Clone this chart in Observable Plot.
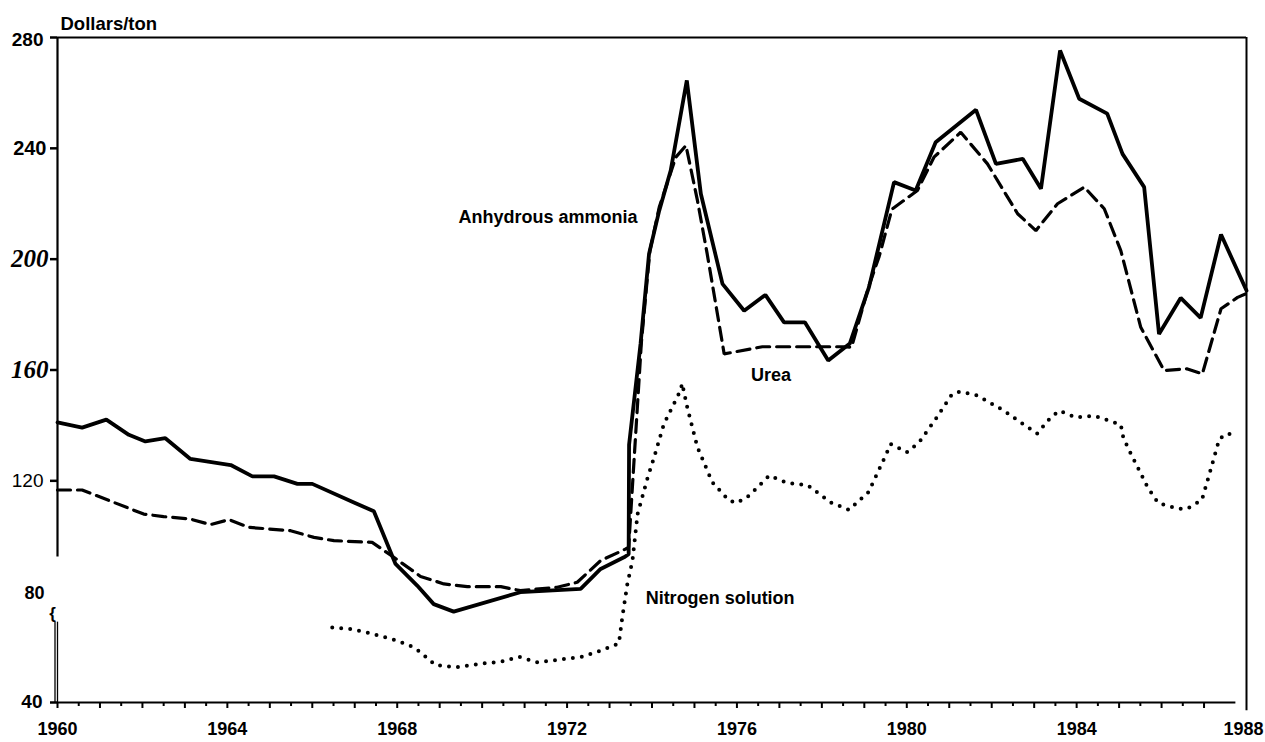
<!DOCTYPE html>
<html>
<head>
<meta charset="utf-8">
<script src="https://cdn.jsdelivr.net/npm/d3@7"></script>
<script src="https://cdn.jsdelivr.net/npm/@observablehq/plot@0.6"></script>
<style>
  html, body { margin: 0; padding: 0; background: #fff; }
  #chart svg { display: block; }
</style>
</head>
<body>
<div id="chart"></div>
<script>
// Anhydrous ammonia (solid), [year, dollars/ton]
const ammonia = [
  [1960.00,141.1],[1960.58,139.2],[1961.15,142.1],[1961.68,136.6],[1962.07,134.2],
  [1962.54,135.4],[1963.13,127.9],[1964.08,125.7],[1964.59,121.6],[1965.10,121.6],
  [1965.65,118.9],[1966.00,118.9],[1966.98,112.2],[1967.45,109.0],[1967.96,90.0],
  [1968.47,82.2],[1968.86,75.5],[1969.33,72.8],[1970.90,79.8],[1972.32,81.0],
  [1972.79,88.2],[1973.34,92.4],[1973.45,93.5],[1973.46,133.0],[1973.73,169.4],
  [1973.93,201.9],[1974.17,217.5],[1974.44,232.0],[1974.82,264.5],[1975.15,223.6],
  [1975.66,191.1],[1976.17,181.4],[1976.67,187.1],[1977.11,177.2],[1977.60,177.2],
  [1978.15,163.4],[1978.66,169.6],[1979.11,189.9],[1979.70,227.8],[1980.21,224.8],
  [1980.68,242.2],[1981.63,253.9],[1982.10,234.4],[1982.73,236.2],[1983.16,225.4],
  [1983.61,275.3],[1984.06,257.9],[1984.72,252.5],[1985.08,238.0],[1985.59,226.0],
  [1985.94,173.0],[1986.45,186.0],[1986.92,178.8],[1987.40,208.9],[1988.00,188.7]
];
// Urea (dashed)
const urea = [
  [1960.00,116.7],[1960.58,116.7],[1962.03,108.0],[1962.50,107.1],[1963.13,106.2],
  [1963.60,104.2],[1964.04,106.0],[1964.51,103.2],[1965.49,102.0],[1966.04,99.6],
  [1966.51,98.4],[1967.41,97.8],[1967.92,92.4],[1968.55,85.5],[1969.10,82.8],
  [1969.65,81.8],[1970.44,81.8],[1970.90,80.4],[1971.77,81.6],[1972.24,83.4],
  [1972.79,91.2],[1973.38,95.4],[1973.45,96.0],[1973.75,170.0],[1973.95,203.0],
  [1974.17,218.7],[1974.56,236.8],[1974.80,241.0],[1975.07,221.2],[1975.30,201.9],
  [1975.70,165.8],[1976.60,168.4],[1978.52,168.4],[1978.70,168.2],[1979.10,190.0],
  [1979.35,201.0],[1979.65,218.0],[1980.25,224.8],[1980.64,236.8],[1981.27,245.8],
  [1981.90,234.4],[1982.61,216.4],[1983.04,210.3],[1983.55,220.0],[1984.18,226.0],
  [1984.65,218.2],[1985.04,203.1],[1985.51,175.4],[1986.06,159.8],[1986.61,160.4],
  [1986.96,158.6],[1987.40,182.1],[1987.79,186.2],[1988.00,187.6]
];
// Nitrogen solution (dotted)
const nitrogen = [
  [1966.47,67.1],[1966.90,66.5],[1967.37,65.0],[1968.00,62.3],[1968.39,59.9],
  [1968.55,58.1],[1968.90,53.5],[1969.38,52.7],[1970.04,54.1],[1970.44,54.7],
  [1970.87,56.5],[1971.30,54.5],[1971.93,55.7],[1972.36,56.5],[1972.79,58.7],
  [1973.22,61.3],[1973.30,70.7],[1973.42,82.8],[1973.54,91.2],[1973.66,108.0],
  [1973.90,121.3],[1974.05,128.5],[1974.28,140.5],[1974.67,152.6],[1974.71,155.2],
  [1974.83,146.5],[1975.07,132.1],[1975.42,119.5],[1975.81,112.9],[1976.00,112.0],
  [1976.29,114.7],[1976.76,121.9],[1977.19,119.2],[1977.66,118.5],[1978.21,112.2],
  [1978.64,109.5],[1979.10,116.0],[1979.50,129.1],[1979.62,133.3],[1980.00,130.3],
  [1980.29,133.9],[1980.68,142.3],[1981.07,151.4],[1981.27,152.2],[1981.66,150.8],
  [1982.29,145.3],[1982.68,141.1],[1983.07,137.1],[1983.39,142.9],[1983.59,145.3],
  [1983.98,142.9],[1984.41,143.5],[1984.88,141.1],[1985.04,140.3],[1985.10,135.5],
  [1985.28,129.7],[1985.47,123.9],[1985.67,117.7],[1985.92,112.0],[1986.39,109.9],
  [1986.60,109.9],[1986.95,113.1],[1987.12,122.1],[1987.36,135.1],[1987.55,137.1],
  [1987.72,136.5]
];

const yTicksTop = [280];
const yTicksWide = [240];
const yTicksSerif = [200, 160];
const yTicksLight = [120];
const yTicksPlain = [80];
const yTicksBottom = [40];
const yTickMarks = [280, 240, 200, 160, 120, 40];
const xLabelTicks = [1960, 1964, 1968, 1972, 1976, 1980, 1984];
const xLabelLast = [1988];
const xYearTicks = d3.range(1960, 1988, 1);
const xHalfTicks = d3.range(1960.5, 1987, 1);

const W = 1265, H = 742, ML = 57, MR = 19, MT = 37, MB = 40;
const frameW = W - ML - MR, frameH = H - MT - MB;
const xDomain = [1960, 1988], yDomain = [40, 280];
// tick lengths expressed in data units so that rules can draw them
const yPerPx = (yDomain[1] - yDomain[0]) / frameH;
const xPerPx = (xDomain[1] - xDomain[0]) / frameW;

const sans = "Liberation Sans, Arial, Helvetica, sans-serif";
const serif = "Liberation Serif, Times New Roman, serif";

const chart = Plot.plot({
  width: W,
  height: H,
  marginLeft: ML,
  marginRight: MR,
  marginTop: MT,
  marginBottom: MB,
  style: {background: "#fff", color: "#000", overflow: "visible"},
  x: {domain: xDomain, axis: null},
  y: {domain: yDomain, axis: null},
  marks: [
    // frame pieces
    Plot.ruleY([280], {x1: 1960, x2: 1988, stroke: "#000", strokeWidth: 2}),
    Plot.ruleX([1988], {y1: 280, y2: 37, stroke: "#000", strokeWidth: 2}),
    Plot.ruleY([40], {x1: 1960, x2: 1987.75, stroke: "#000", strokeWidth: 2}),
    Plot.ruleX([1960], {y1: 280, y2: 92.5, stroke: "#000", strokeWidth: 2.2}),
    Plot.ruleX([1960], {y1: 69, y2: 40, dx: -2.5, stroke: "#000", strokeWidth: 1.3}),
    Plot.ruleX([1960], {y1: 69, y2: 40, dx: 0, stroke: "#000", strokeWidth: 1.3}),
    Plot.text(["{"], {x: 1960, y: 72, dx: -5, fontSize: 17, fontFamily: sans, fontWeight: "bold", textAnchor: "middle"}),

    // x tick marks below the axis line (year and half-year)
    Plot.ruleX(xYearTicks, {y1: 40, y2: 40 - 6 * yPerPx, stroke: "#000", strokeWidth: 2}),
    Plot.ruleX(xHalfTicks, {y1: 40, y2: 40 - 4 * yPerPx, stroke: "#000", strokeWidth: 2}),
    // y tick marks left of the axis line
    Plot.ruleY(yTickMarks, {x1: 1960 - 7 * xPerPx, x2: 1960, stroke: "#000", strokeWidth: 2.5}),

    // x labels
    Plot.axisX(xLabelTicks, {anchor: "bottom", tickSize: 0, tickPadding: 20, tickFormat: d => String(d),
      fontSize: 18, fontWeight: "bold", fontFamily: sans}),
    Plot.axisX(xLabelLast, {anchor: "bottom", tickSize: 0, tickPadding: 20, dx: -3, tickFormat: d => String(d),
      fontSize: 18, fontWeight: "bold", fontFamily: sans}),

    // y labels (mixed type faces as in original)
    Plot.axisY(yTicksTop, {anchor: "left", tickSize: 0, tickPadding: 14, tickFormat: d => String(d),
      fontSize: 19, fontWeight: "bold", fontFamily: sans, dy: 2}),
    Plot.axisY(yTicksWide, {anchor: "left", tickSize: 0, tickPadding: 11, tickFormat: d => String(d),
      fontSize: 20, fontWeight: "bold", fontFamily: sans}),
    Plot.axisY(yTicksSerif, {anchor: "left", tickSize: 0, tickPadding: 9, tickFormat: d => String(d),
      fontSize: 25, fontWeight: "bold", fontStyle: "italic", fontFamily: serif}),
    Plot.axisY(yTicksLight, {anchor: "left", tickSize: 0, tickPadding: 14, tickFormat: d => String(d),
      fontSize: 19, fontWeight: "normal", fontFamily: sans}),
    Plot.axisY(yTicksPlain, {anchor: "left", tickSize: 0, tickPadding: 13, dy: 2, tickFormat: d => String(d),
      fontSize: 18, fontWeight: "bold", fontFamily: sans}),
    Plot.axisY(yTicksBottom, {anchor: "left", tickSize: 0, tickPadding: 15, tickFormat: d => String(d),
      fontSize: 19, fontWeight: "bold", fontFamily: sans, dy: -1}),

    // y unit label
    Plot.text(["Dollars/ton"], {frameAnchor: "top-left", dx: 3, dy: -8, lineAnchor: "bottom", textAnchor: "start",
      fontSize: 18.5, fontWeight: "bold", fontFamily: sans}),

    // series
    Plot.line(nitrogen, {x: d => d[0], y: d => d[1], stroke: "#000", strokeWidth: 4,
      strokeDasharray: "0,9", strokeLinecap: "round", curve: "linear"}),
    Plot.line(urea, {x: d => d[0], y: d => d[1], stroke: "#000", strokeWidth: 3.2,
      strokeDasharray: "13,7", strokeLinejoin: "miter", curve: "linear"}),
    Plot.line(ammonia, {x: d => d[0], y: d => d[1], stroke: "#000", strokeWidth: 3.8,
      strokeLinejoin: "miter", curve: "linear"}),

    // series labels
    Plot.text(["Anhydrous ammonia"], {x: 1973.66, y: 215, textAnchor: "end", fontSize: 18,
      fontWeight: "bold", fontFamily: sans, style: "letter-spacing:0.2px"}),
    Plot.text(["Urea"], {x: 1976.8, y: 158, textAnchor: "middle", fontSize: 18,
      fontWeight: "bold", fontFamily: sans}),
    Plot.text(["Nitrogen solution"], {x: 1973.85, y: 77.5, textAnchor: "start", fontSize: 18,
      fontWeight: "bold", fontFamily: sans, style: "letter-spacing:0.3px"})
  ]
});
document.getElementById("chart").append(chart);
</script>
</body>
</html>
